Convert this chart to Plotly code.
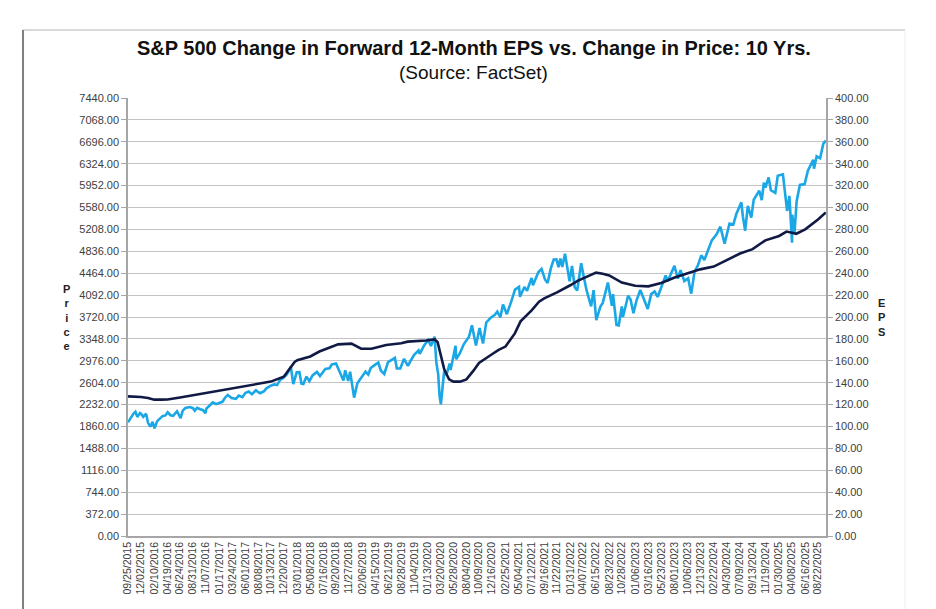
import plotly.graph_objects as go

# ---- Data ----
tick_dates = [
    "2015-09-25", "2015-12-02", "2016-02-10", "2016-04-19", "2016-06-24", "2016-08-31",
    "2016-11-07", "2017-01-17", "2017-03-24", "2017-06-01", "2017-08-08", "2017-10-13",
    "2017-12-20", "2018-03-01", "2018-05-08", "2018-07-16", "2018-09-20", "2018-11-27",
    "2019-02-06", "2019-04-15", "2019-06-21", "2019-08-28", "2019-11-04", "2020-01-13",
    "2020-03-20", "2020-05-28", "2020-08-04", "2020-10-09", "2020-12-16", "2021-02-25",
    "2021-05-04", "2021-07-12", "2021-09-16", "2021-11-22", "2022-01-31", "2022-04-07",
    "2022-06-15", "2022-08-23", "2022-10-28", "2023-01-06", "2023-03-16", "2023-05-23",
    "2023-08-01", "2023-10-06", "2023-12-13", "2024-02-22", "2024-04-30", "2024-07-09",
    "2024-09-13", "2024-11-19", "2025-01-30", "2025-04-08", "2025-06-16", "2025-08-22",
]

price_dates = [
    "2015-09-25", "2015-10-09", "2015-10-23", "2015-11-03", "2015-11-13", "2015-11-27",
    "2015-12-02", "2015-12-14", "2015-12-29",
    "2016-01-08", "2016-01-20", "2016-02-01", "2016-02-11", "2016-02-25", "2016-03-10",
    "2016-03-24", "2016-04-08", "2016-04-20", "2016-05-05", "2016-05-19", "2016-06-08",
    "2016-06-27", "2016-07-08", "2016-07-22", "2016-08-15", "2016-08-31", "2016-09-09",
    "2016-09-22", "2016-10-07", "2016-10-21", "2016-11-04", "2016-11-09", "2016-11-25",
    "2016-12-13", "2016-12-30",
    "2017-01-17", "2017-02-01", "2017-02-15", "2017-03-01", "2017-03-21", "2017-04-13",
    "2017-04-28", "2017-05-17", "2017-06-01", "2017-06-19", "2017-07-06", "2017-07-27",
    "2017-08-10", "2017-08-18", "2017-09-08", "2017-09-20", "2017-10-13", "2017-10-31",
    "2017-11-15", "2017-11-30", "2017-12-18",
    "2018-01-05", "2018-01-26", "2018-02-08", "2018-02-26", "2018-03-12", "2018-03-23",
    "2018-04-02", "2018-04-18", "2018-05-03", "2018-05-21", "2018-06-12", "2018-06-28",
    "2018-07-16", "2018-07-26", "2018-08-17", "2018-08-29", "2018-09-20", "2018-10-10",
    "2018-10-29", "2018-11-07", "2018-11-23", "2018-12-03", "2018-12-24",
    "2019-01-10", "2019-01-31", "2019-02-22", "2019-03-08", "2019-03-21", "2019-04-12",
    "2019-04-30", "2019-05-13", "2019-05-31", "2019-06-20", "2019-07-15", "2019-07-26",
    "2019-08-05", "2019-08-23", "2019-09-12", "2019-10-02", "2019-10-18", "2019-11-04",
    "2019-11-27", "2019-12-03", "2019-12-27",
    "2020-01-17", "2020-01-31", "2020-02-19", "2020-02-28", "2020-03-09", "2020-03-16",
    "2020-03-23", "2020-04-09", "2020-04-21", "2020-05-08", "2020-05-13", "2020-06-08",
    "2020-06-11", "2020-06-30", "2020-07-21", "2020-08-18", "2020-09-02", "2020-09-23",
    "2020-10-12", "2020-10-30", "2020-11-16", "2020-12-08", "2020-12-31",
    "2021-01-13", "2021-01-29", "2021-02-12", "2021-03-04", "2021-03-26", "2021-04-16",
    "2021-05-07", "2021-05-12", "2021-06-04", "2021-06-18", "2021-07-12", "2021-07-19",
    "2021-08-16", "2021-09-02", "2021-09-20", "2021-10-04", "2021-10-21", "2021-11-05",
    "2021-11-19", "2021-11-30", "2021-12-10", "2021-12-20",
    "2022-01-03", "2022-01-27", "2022-02-09", "2022-02-23", "2022-03-08", "2022-03-29",
    "2022-04-12", "2022-04-26", "2022-05-20", "2022-06-02", "2022-06-16", "2022-07-08",
    "2022-07-20", "2022-08-16", "2022-09-06", "2022-09-12", "2022-09-30", "2022-10-12",
    "2022-10-28", "2022-11-03", "2022-11-30", "2022-12-13", "2022-12-28",
    "2023-01-13", "2023-02-02", "2023-02-23", "2023-03-13", "2023-03-31", "2023-04-18",
    "2023-05-04", "2023-05-19", "2023-06-15", "2023-06-26", "2023-07-31", "2023-08-18",
    "2023-09-01", "2023-09-21", "2023-10-11", "2023-10-27", "2023-11-14", "2023-12-01",
    "2023-12-19",
    "2024-01-04", "2024-01-24", "2024-02-12", "2024-03-08", "2024-03-28", "2024-04-19",
    "2024-05-15", "2024-06-04", "2024-06-20", "2024-07-16", "2024-07-24", "2024-08-05",
    "2024-08-19", "2024-09-06", "2024-09-19", "2024-10-18", "2024-10-31", "2024-11-11",
    "2024-11-19", "2024-12-06", "2024-12-18",
    "2025-01-10", "2025-01-23", "2025-02-19", "2025-03-13", "2025-03-25", "2025-04-04",
    "2025-04-08", "2025-04-09", "2025-04-21", "2025-05-02", "2025-05-19", "2025-06-13",
    "2025-06-30", "2025-07-28", "2025-08-01", "2025-08-15", "2025-09-02", "2025-09-19",
    "2025-10-02",
]
price_values = [
    1931, 2014, 2075, 2109, 2023, 2090,
    2079, 2022, 2078,
    1922, 1859, 1939, 1829, 1951, 1989,
    2036, 2048, 2102, 2051, 2040, 2119,
    2001, 2130, 2175, 2190, 2171, 2128,
    2177, 2153, 2141, 2085, 2163, 2213,
    2271, 2239,
    2268, 2279, 2349, 2396, 2344, 2329,
    2384, 2357, 2430, 2453, 2409, 2475,
    2438, 2425, 2461, 2508, 2553, 2575,
    2564, 2648, 2690,
    2743, 2873, 2581, 2780, 2783, 2588,
    2582, 2708, 2630, 2733, 2787, 2716,
    2798, 2837, 2850, 2914, 2931, 2785,
    2641, 2814, 2633, 2790, 2351,
    2596, 2704, 2793, 2743, 2854, 2907,
    2946, 2812, 2752, 2954, 3014, 3026,
    2845, 2847, 3010, 2888, 2986, 3078,
    3153, 3093, 3240,
    3330, 3226, 3386, 2954, 2747, 2386,
    2237, 2790, 2737, 2930, 2820, 3232,
    3002, 3100, 3257, 3390, 3580, 3237,
    3534, 3270, 3627, 3702, 3756,
    3810, 3714, 3934, 3768, 3974, 4185,
    4232, 4063, 4229, 4166, 4384, 4258,
    4479, 4537, 4358, 4300, 4549, 4697,
    4698, 4567, 4712, 4568,
    4796, 4326, 4587, 4225, 4170, 4632,
    4397, 4175, 3901, 4177, 3667, 3899,
    3960, 4305, 3909, 4110, 3586, 3577,
    3901, 3720, 4080, 4019, 3783,
    3999, 4179, 3991, 3855, 4109, 4154,
    4061, 4192, 4426, 4328, 4589, 4370,
    4516, 4330, 4377, 4117, 4496, 4595,
    4768,
    4688, 4868, 5022, 5124, 5254, 4967,
    5308, 5291, 5473, 5667, 5427, 5186,
    5608, 5408, 5713, 5864, 5705, 6001,
    5917, 6090, 5872,
    5827, 6119, 6144, 5521, 5777, 5074,
    4983, 5457, 5158, 5687, 5964, 5977,
    6205, 6390, 6238, 6449, 6416, 6664,
    6715,
]

eps_dates = [
    "2015-09-25", "2015-12-02", "2016-01-08", "2016-02-10", "2016-03-16", "2016-04-19",
    "2016-06-24", "2016-08-31", "2016-11-07", "2017-01-17", "2017-03-24", "2017-06-01",
    "2017-08-08", "2017-10-13", "2017-12-20", "2018-01-17", "2018-02-15", "2018-03-01",
    "2018-05-08", "2018-06-25", "2018-08-15", "2018-10-01", "2018-12-10", "2019-01-30",
    "2019-03-25", "2019-06-10", "2019-08-28", "2019-10-01", "2020-01-05", "2020-02-20",
    "2020-03-06", "2020-03-20", "2020-04-10", "2020-05-05", "2020-05-28", "2020-07-01",
    "2020-08-04", "2020-09-10", "2020-10-09", "2020-12-16", "2021-01-20", "2021-02-25",
    "2021-04-15", "2021-05-15", "2021-07-12", "2021-08-20", "2021-09-16", "2021-11-22",
    "2021-12-20", "2022-01-31", "2022-03-10", "2022-04-07", "2022-06-15", "2022-07-20",
    "2022-08-23", "2022-10-28", "2023-01-06", "2023-03-16", "2023-05-23", "2023-08-01",
    "2023-10-06", "2023-12-13", "2024-02-22", "2024-04-30", "2024-07-09", "2024-09-13",
    "2024-11-19", "2025-01-30", "2025-03-10", "2025-04-08", "2025-04-30", "2025-06-16",
    "2025-08-22", "2025-10-02",
]
eps_values = [
    127.5, 127.0, 126.0, 124.5, 124.5, 124.7,
    126.5, 128.5, 131.0, 133.0, 135.0, 137.0,
    139.0, 141.0, 145.5, 152.0, 159.0, 160.5,
    164.0, 168.5, 172.0, 175.0, 175.7, 171.0,
    171.0, 174.5, 176.0, 177.5, 178.5, 179.5,
    177.0, 168.0, 152.0, 143.0, 141.0, 141.0,
    143.0, 151.0, 158.0, 166.0, 170.0, 173.0,
    185.0, 196.0, 206.0, 214.0, 217.0, 222.5,
    225.0, 229.0, 233.0, 235.0, 240.5, 239.5,
    238.0, 231.5, 228.5, 228.0, 231.0, 236.0,
    240.0, 243.5, 246.0, 252.0, 258.0, 262.0,
    270.0, 274.0, 278.0, 277.0, 276.0, 280.0,
    289.0, 295.5,
]

price_ticks = [372 * k for k in range(21)]
eps_ticks = [20 * k for k in range(21)]

fig = go.Figure()
fig.add_trace(go.Scatter(
    x=price_dates, y=price_values, mode="lines", name="Price",
    line=dict(color="#1aa7e6", width=2.6), yaxis="y",
))
fig.add_trace(go.Scatter(
    x=eps_dates, y=eps_values, mode="lines", name="EPS",
    line=dict(color="#111a45", width=2.6), yaxis="y2",
))

FONT = "Liberation Sans, Arial, sans-serif"
axis_font = dict(family=FONT, size=11, color="#404040")

fig.update_layout(
    width=928, height=601,
    margin=dict(l=120, r=110, t=90, b=73),
    paper_bgcolor="white", plot_bgcolor="white",
    showlegend=False,
    xaxis=dict(
        type="date",
        range=["2015-09-25", "2025-10-03"],
        tickvals=tick_dates,
        tickformat="%m/%d/%Y",
        tickangle=-90,
        tickfont=dict(family=FONT, size=10.5, color="#404040"),
        showgrid=False,
        showline=True, linecolor="#a6a6a6", linewidth=1.5,
        ticks="", zeroline=False,
    ),
    yaxis=dict(
        range=[0, 7440],
        tickvals=price_ticks,
        tickformat=".2f",
        tickfont=axis_font,
        showgrid=True, gridcolor="#c4c4c4", gridwidth=1.2,
        showline=True, linecolor="#a6a6a6", linewidth=1.5,
        ticks="outside", ticklen=5, tickcolor="#a6a6a6",
        zeroline=False,
    ),
    yaxis2=dict(
        range=[0, 400],
        tickvals=eps_ticks,
        tickformat=".2f",
        tickfont=axis_font,
        overlaying="y", side="right",
        showgrid=False,
        showline=True, linecolor="#a6a6a6", linewidth=1.5,
        ticks="outside", ticklen=5, tickcolor="#a6a6a6",
        zeroline=False,
    ),
    annotations=[
        dict(text="<b>S&P 500 Change in Forward 12-Month EPS vs. Change in Price: 10 Yrs.</b>",
             xref="paper", yref="paper", x=0.4957, y=1.1142, xanchor="center", yanchor="middle",
             showarrow=False, font=dict(family=FONT, size=20, color="#111111")),
        dict(text="(Source: FactSet)",
             xref="paper", yref="paper", x=0.4957, y=1.0571, xanchor="center", yanchor="middle",
             showarrow=False, font=dict(family=FONT, size=19, color="#111111")),
        dict(text="<b>P<br>r<br>i<br>c<br>e</b>",
             xref="paper", yref="paper", x=-0.0874, y=0.5, xanchor="center", yanchor="middle",
             showarrow=False, font=dict(family=FONT, size=11, color="#222222")),
        dict(text="<b>E<br>P<br>S</b>",
             xref="paper", yref="paper", x=1.080, y=0.498, xanchor="center", yanchor="middle",
             showarrow=False, font=dict(family=FONT, size=11, color="#222222")),
    ],
    shapes=[
        dict(type="line", xref="paper", yref="paper", x0=-0.1504, x1=1.1132, y0=1.1553, y1=1.1553,
             line=dict(color="#d9d9d9", width=2)),
        dict(type="line", xref="paper", yref="paper", x0=-0.1504, x1=-0.1504, y0=1.1553, y1=-0.1667,
             line=dict(color="#7f7f7f", width=2)),
        dict(type="line", xref="paper", yref="paper", x0=1.1132, x1=1.1132, y0=1.1553, y1=-0.1667,
             line=dict(color="#ececec", width=1)),
    ],
)

fig.write_html("out.html")
